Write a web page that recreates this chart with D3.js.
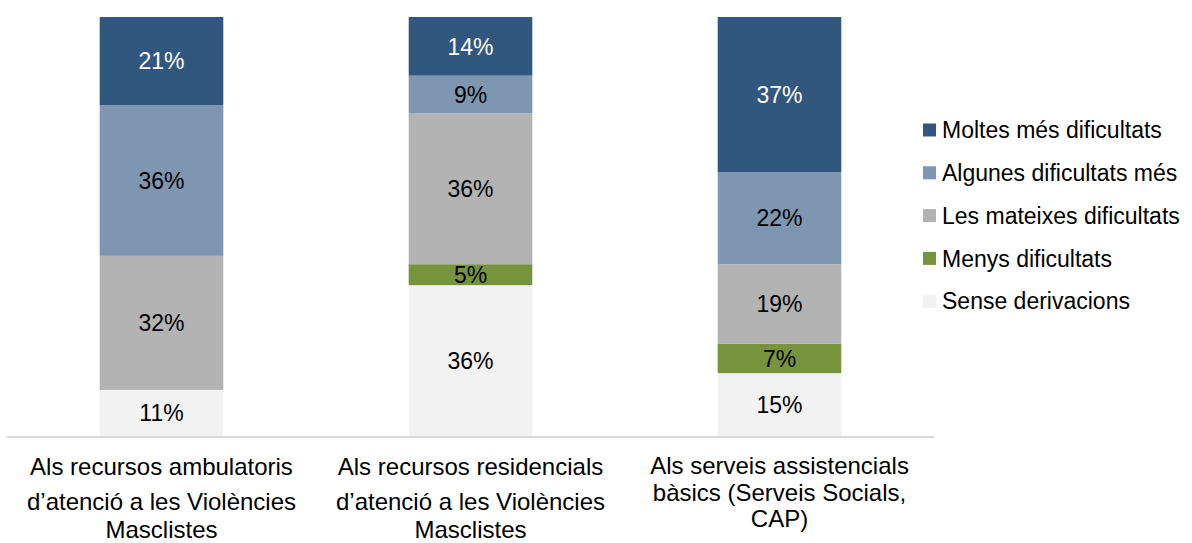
<!DOCTYPE html>
<html>
<head>
<meta charset="utf-8">
<script src="https://cdn.jsdelivr.net/npm/d3@7"></script>
<style>
  body { margin: 0; background: #fff; }
  svg text { font-family: "Liberation Sans", Arial, sans-serif; }
</style>
</head>
<body>
<div id="chart"></div>
<script>
// categories (each label split into its lines)
var categories = ["ambulatoris", "residencials", "basics"];
var categoryLines = [
  ["Als recursos ambulatoris", "d’atenció a les Violències", "Masclistes"],
  ["Als recursos residencials", "d’atenció a les Violències", "Masclistes"],
  ["Als serveis assistencials", "bàsics (Serveis Socials,", "CAP)"]
];

// series values (%), bottom of the stack first
var seriesNames = ["Sense derivacions", "Menys dificultats", "Les mateixes dificultats", "Algunes dificultats més", "Moltes més dificultats"];
var senseDerivacions = [11, 36, 15];
var menysDificultats = [0, 5, 7];
var mateixesDificultats = [32, 36, 19];
var algunesDificultats = [36, 9, 22];
var moltesDificultats = [21, 14, 37];

var seriesColors = ["#f2f2f2", "#77933c", "#b3b3b3", "#7f96b0", "#31577f"];
var labelColors = ["#000", "#000", "#000", "#000", "#fff"];

// build rows for d3.stack
var allSeries = [senseDerivacions, menysDificultats, mateixesDificultats, algunesDificultats, moltesDificultats];
var data = categories.map(function(c, i) {
  var row = {cat: c};
  seriesNames.forEach(function(s, j) { row[s] = allSeries[j][i]; });
  return row;
});

var width = 1192, height = 543;

var svg = d3.select("#chart")
  .append("svg")
    .attr("width", width)
    .attr("height", height);

var x = d3.scaleBand()
  .domain(categories)
  .range([7, 934])
  .paddingInner(0.6)
  .paddingOuter(0.3);

var y = d3.scaleLinear()
  .domain([0, 100])
  .range([436, 17]);

var stacked = d3.stack().keys(seriesNames)(data);

var layers = svg.selectAll(".layer")
  .data(stacked)
  .enter().append("g")
    .attr("class", "layer")
    .attr("fill", function(d, i) { return seriesColors[i]; });

layers.selectAll("rect")
  .data(function(d) { return d; })
  .enter().append("rect")
    .attr("x", function(d) { return x(d.data.cat); })
    .attr("y", function(d) { return y(d[1]); })
    .attr("width", x.bandwidth())
    .attr("height", function(d) { return y(d[0]) - y(d[1]); });

// value labels
stacked.forEach(function(layer, i) {
  svg.append("g").selectAll("text")
    .data(layer.filter(function(d) { return d[1] - d[0] > 0; }))
    .enter().append("text")
      .attr("x", function(d) { return x(d.data.cat) + x.bandwidth() / 2; })
      .attr("y", function(d) { return (y(d[0]) + y(d[1])) / 2; })
      .attr("dy", "0.36em")
      .attr("text-anchor", "middle")
      .style("font-size", "23px")
      .style("fill", labelColors[i])
      .text(function(d) { return (d[1] - d[0]) + "%"; });
});

// baseline
svg.append("line")
  .attr("x1", 7)
  .attr("x2", 934)
  .attr("y1", y(0) + 1)
  .attr("y2", y(0) + 1)
  .style("stroke", "#d9d9d9")
  .style("stroke-width", 2);

// category labels
var lineY = [[475, 510, 538], [475, 510, 538], [474, 501, 527]];
categories.forEach(function(c, i) {
  var t = svg.append("text")
    .attr("text-anchor", "middle")
    .style("font-size", "24px")
    .style("fill", "#000");
  categoryLines[i].forEach(function(line, k) {
    t.append("tspan")
      .attr("x", x(c) + x.bandwidth() / 2)
      .attr("y", lineY[i][k])
      .text(line);
  });
});

// legend (top item is the top of the stack)
var legendOrder = seriesNames.slice().reverse();
var legend = svg.append("g")
  .attr("transform", "translate(923,130)");

var items = legend.selectAll("g")
  .data(legendOrder)
  .enter().append("g")
    .attr("transform", function(d, i) { return "translate(0," + (i * 42.8) + ")"; });

items.append("rect")
  .attr("x", 0)
  .attr("y", -6.5)
  .attr("width", 13)
  .attr("height", 13)
  .attr("fill", function(d) { return seriesColors[seriesNames.indexOf(d)]; });

items.append("text")
  .attr("x", 19)
  .attr("y", 0)
  .attr("dy", "0.36em")
  .style("font-size", "23px")
  .style("fill", "#000")
  .text(function(d) { return d; });
</script>
</body>
</html>
